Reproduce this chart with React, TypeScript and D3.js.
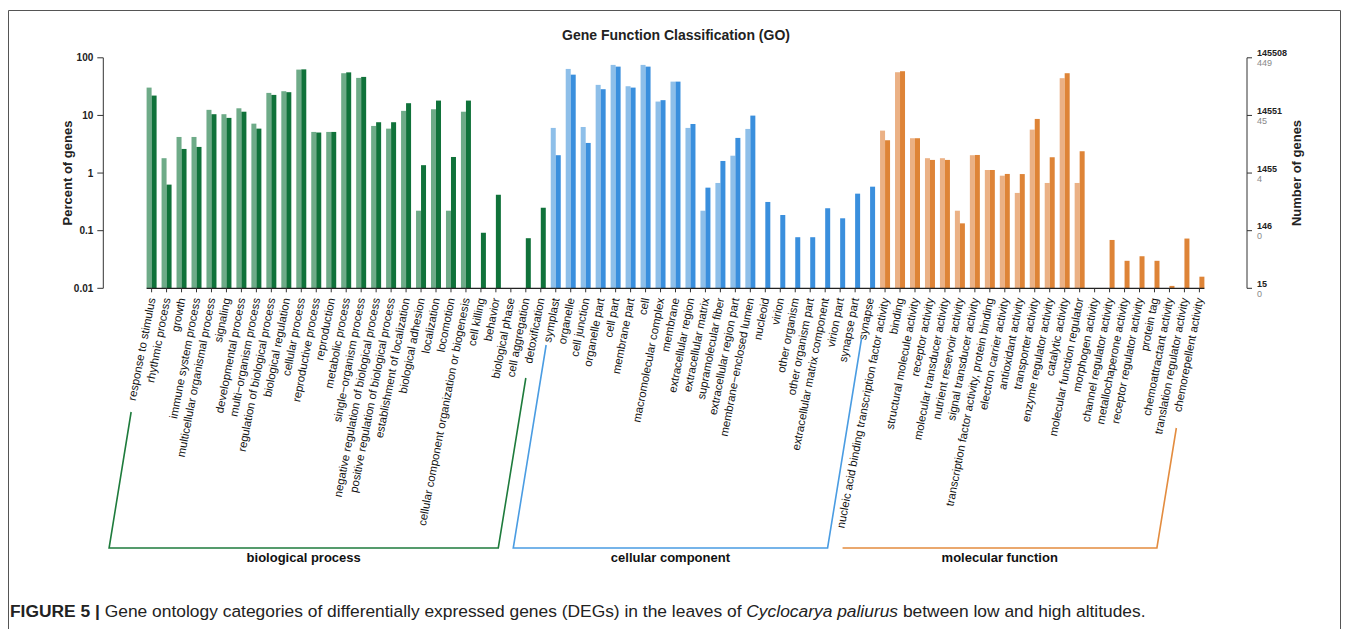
import React from "react";
import * as d3 from "d3";

// ---------- DATA ----------
const categoriesBP = [
  "response to stimulus", "rhythmic process", "growth", "immune system process",
  "multicellular organismal process", "signaling", "developmental process",
  "multi\u2212organism process", "regulation of biological process", "biological regulation",
  "cellular process", "reproductive process", "reproduction", "metabolic process",
  "single\u2212organism process", "negative regulation of biological process",
  "positive regulation of biological process", "establishment of localization",
  "biological adhesion", "localization", "locomotion",
  "cellular component organization or biogenesis", "cell killing", "behavior",
  "biological phase", "cell aggregation", "detoxification",
];
const categoriesCC = [
  "symplast", "organelle", "cell junction", "organelle part", "cell part", "membrane part",
  "cell", "macromolecular complex", "membrane", "extracellular region", "extracellular matrix",
  "supramolecular fiber", "extracellular region part", "membrane\u2212enclosed lumen", "nucleoid",
  "virion", "other organism", "other organism part", "extracellular matrix component",
  "virion part", "synapse part", "synapse",
];
const categoriesMF = [
  "nucleic acid binding transcription factor activity", "binding", "structural molecule activity",
  "receptor activity", "molecular transducer activity", "nutrient reservoir activity",
  "signal transducer activity", "transcription factor activity, protein binding",
  "electron carrier activity", "antioxidant activity", "transporter activity",
  "enzyme regulator activity", "catalytic activity", "molecular function regulator",
  "morphogen activity", "channel regulator activity", "metallochaperone activity",
  "receptor regulator activity", "protein tag", "chemoattractant activity",
  "translation regulator activity", "chemorepellent activity",
];

// percent of genes (light = first series, dark = second series); null = no genes
const lightBP = [30.4, 1.81, 4.23, 4.23, 12.5, 10.5, 13.3, 7.2, 24.6, 26.3, 62.4, 5.17, 5.17, 54, 44.8, 6.57, 5.9, 12, 0.222, 12.8, 0.222, 11.6, null, null, null, null, null];
const darkBP = [22.1, 0.63, 2.62, 2.84, 10.5, 9.06, 11.6, 5.9, 22.7, 25.3, 63, 5.05, 5.17, 55.9, 46.6, 7.62, 7.62, 16.3, 1.37, 18.1, 1.9, 18.1, 0.092, 0.42, null, 0.074, 0.25];
const lightCC = [6.07, 64.1, 6.3, 33.9, 75.3, 32.1, 75.3, 17.4, 38.6, 6.07, 0.222, 0.673, 2.0, 5.83, null, null, null, null, null, null, null, null];
const darkCC = [2.04, 51, 3.33, 28.5, 70.3, 30.4, 70.3, 18.4, 38.6, 7.1, 0.558, 1.62, 4.07, 9.93, 0.315, 0.187, 0.077, 0.077, 0.245, 0.164, 0.439, 0.58];
const lightMF = [5.45, 56.2, 4.02, 1.81, 1.81, 0.222, 2.04, 1.13, 0.9, 0.452, 5.67, 0.673, 44.3, 0.673, null, null, null, null, null, null, null, null];
const darkMF = [3.71, 58.5, 4.02, 1.69, 1.69, 0.134, 2.06, 1.13, 0.965, 0.96, 8.69, 1.88, 54, 2.39, null, 0.069, 0.03, 0.036, 0.03, 0.011, 0.073, 0.0159];

const groupNames = ["biological process", "cellular component", "molecular function"];
const leftTicks = [0.01, 0.1, 1, 10, 100];
const leftTickLabels = ["0.01", "0.1", "1", "10", "100"];
const rightTotalLabels = ["15", "146", "1455", "14551", "145508"];
const rightCountLabels = ["0", "0", "4", "45", "449"];

// ---------- LAYOUT / STYLE ----------
const FONT = "'Liberation Sans', Arial, Helvetica, sans-serif";
const COLORS = [
  { light: "#6eab88", dark: "#10723a", line: "#1e7b3c" },
  { light: "#8ebfe9", dark: "#3a8fdd", line: "#4a9ce2" },
  { light: "#ebb185", dark: "#de8437", line: "#e38c3f" },
];
// bracket tip heights (left, right) for each group; null = no diagonal
const BRACKET_TOPS: (number | null)[][] = [[412, 378], [345, 338], [null, 428]];
const BRACKET_Y = 548;
const LABEL_Y = 298;
const LINE_SLOPE = 0.162;

export default function App() {
  const groups = [
    { cats: categoriesBP, light: lightBP, dark: darkBP },
    { cats: categoriesCC, light: lightCC, dark: darkCC },
    { cats: categoriesMF, light: lightMF, dark: darkMF },
  ];
  const allCats = groups.flatMap((g) => g.cats);
  const x = d3.scalePoint<string>().domain(allCats).range([151.6, 1199.4]);
  const y = d3.scaleLog().domain([0.01, 100]).range([288.3, 57.8]);
  const barW = 5;
  const axisX = 103.3;
  const rAxisX = 1247;

  const bars: React.ReactNode[] = [];
  groups.forEach((g, gi) => {
    g.cats.forEach((c, i) => {
      const cx = x(c)!;
      const lv = g.light[i];
      const dv = g.dark[i];
      if (lv != null) {
        bars.push(
          <rect key={"l" + c} x={cx - barW} y={y(lv)} width={barW} height={y(0.01) - y(lv)} fill={COLORS[gi].light} />
        );
      }
      if (dv != null) {
        bars.push(
          <rect key={"d" + c} x={cx} y={y(dv)} width={barW} height={y(0.01) - y(dv)} fill={COLORS[gi].dark} />
        );
      }
    });
  });

  const brackets = groups.map((g, gi) => {
    const x1 = x(g.cats[0])! - 2;
    const x2 = x(g.cats[g.cats.length - 1])! - 2;
    const at = (x0: number, yy: number) => x0 - LINE_SLOPE * (yy - LABEL_Y);
    const [tl, tr] = BRACKET_TOPS[gi];
    const pts: [number, number][] = [];
    if (tl != null) pts.push([at(x1, tl), tl]);
    pts.push([at(x1, BRACKET_Y), BRACKET_Y]);
    pts.push([at(x2, BRACKET_Y), BRACKET_Y]);
    if (tr != null) pts.push([at(x2, tr), tr]);
    const midX = (at(x1, BRACKET_Y) + at(x2, BRACKET_Y)) / 2;
    return (
      <g key={"br" + gi}>
        <path d={d3.line()(pts)!} fill="none" stroke={COLORS[gi].line} strokeWidth={1.6} />
        <text x={midX} y={561.5} textAnchor="middle" fontSize={13} fontWeight="bold" fill="#111">
          {groupNames[gi]}
        </text>
      </g>
    );
  });

  return (
    <svg
      width={1349}
      height={629}
      style={{ position: "absolute", left: 0, top: 0, background: "#fff" }}
      fontFamily={FONT}
    >
      {/* frame */}
      <path d="M8.5,640 V10.5 H1340.5 V640" fill="none" stroke="#555" strokeWidth={1} />

      <text x={676} y={40} textAnchor="middle" fontSize={14} fontWeight="bold" fill="#222">
        Gene Function Classification (GO)
      </text>

      {/* left axis */}
      <line x1={axisX} x2={axisX} y1={y(100)} y2={y(0.01)} stroke="#333" strokeWidth={1} />
      {leftTicks.map((t, i) => (
        <g key={"lt" + t}>
          <line x1={axisX - 6} x2={axisX} y1={y(t)} y2={y(t)} stroke="#333" />
          <text x={axisX - 10} y={y(t)} dy="0.35em" textAnchor="end" fontSize={10} fontWeight="bold" fill="#222">
            {leftTickLabels[i]}
          </text>
        </g>
      ))}
      <text
        transform={`translate(67,173) rotate(-90)`}
        textAnchor="middle"
        dy="0.35em"
        fontSize={13}
        fontWeight="bold"
        fill="#222"
      >
        Percent of genes
      </text>

      {/* right axis */}
      <line x1={rAxisX} x2={rAxisX} y1={y(100)} y2={y(0.01)} stroke="#333" strokeWidth={1} />
      {leftTicks.map((t, i) => (
        <g key={"rt" + t}>
          <line x1={rAxisX} x2={rAxisX + 5} y1={y(t)} y2={y(t)} stroke="#333" />
          <text x={rAxisX + 10} y={y(t) - 1.5} fontSize={9} fontWeight="bold" fill="#222">
            {rightTotalLabels[i]}
          </text>
          <text x={rAxisX + 10} y={y(t) + 8.5} fontSize={9} fill="#888">
            {rightCountLabels[i]}
          </text>
        </g>
      ))}
      <text
        transform={`translate(1296,173) rotate(-90)`}
        textAnchor="middle"
        dy="0.35em"
        fontSize={13}
        fontWeight="bold"
        fill="#222"
      >
        Number of genes
      </text>

      {/* bars */}
      {bars}

      {/* x axis */}
      <line x1={x(allCats[0])! - barW} x2={x(allCats[allCats.length - 1])! + barW} y1={y(0.01)} y2={y(0.01)} stroke="#222" strokeWidth={1.2} />
      {allCats.map((c) => (
        <g key={"xt" + c}>
          <line x1={x(c)!} x2={x(c)!} y1={y(0.01)} y2={y(0.01) + 4} stroke="#333" />
          <text
            transform={`translate(${x(c)!},${LABEL_Y}) rotate(-79)`}
            textAnchor="end"
            dy="0.35em"
            fontSize={11.4}
            fill="#111"
          >
            {c}
          </text>
        </g>
      ))}

      {brackets}

      {/* caption */}
      <text x={10} y={617} fontSize={17.4} fill="#222">
        <tspan fontWeight="bold">FIGURE 5 |</tspan>
        <tspan> Gene ontology categories of differentially expressed genes (DEGs) in the leaves of </tspan>
        <tspan fontStyle="italic">Cyclocarya paliurus</tspan>
        <tspan> between low and high altitudes.</tspan>
      </text>
    </svg>
  );
}
